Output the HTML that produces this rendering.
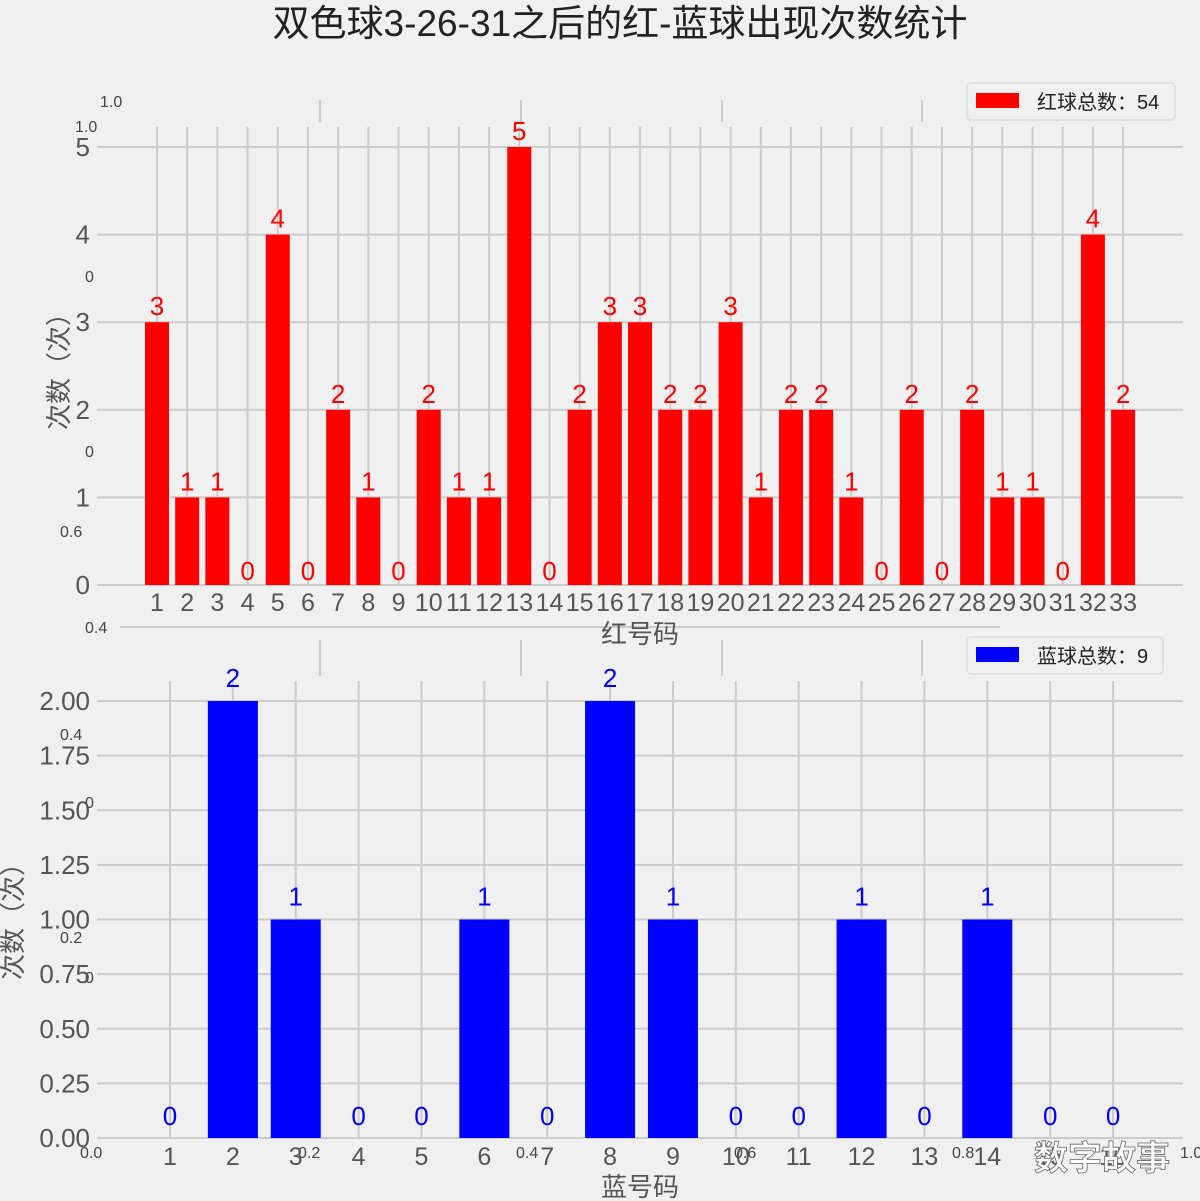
<!DOCTYPE html>
<html><head><meta charset="utf-8"><style>
html,body{margin:0;padding:0;background:#f0f0f0;}
svg{display:block;font-family:"Liberation Sans","Noto Sans CJK SC",sans-serif;}
</style></head><body>
<svg id="chart" width="1200" height="1201" viewBox="0 0 1200 1201" xmlns="http://www.w3.org/2000/svg">
<rect width="1200" height="1201" fill="#f0f0f0"/>
<text x="620" y="36" text-anchor="middle" font-size="37" fill="#222">双色球3-26-31之后的红-蓝球出现次数统计</text>
<g id="ghost" fill="#444" font-size="16"></g>
<g id="top"></g>
<g id="bot"></g>
<text x="1102" y="1170" text-anchor="middle" font-size="34" font-weight="bold" fill="#fff" stroke="#666" stroke-width="0.8">数字故事</text>
</svg>
<script>
const redCats = Array.from({length:33},(_,i)=>String(i+1));
const redVals = [3,1,1,0,4,0,2,1,0,2,1,1,5,0,2,3,3,2,2,3,1,2,2,1,0,2,0,2,1,1,0,4,2];
const redTicks = [0,1,2,3,4,5];
const blueCats = Array.from({length:16},(_,i)=>String(i+1));
const blueVals = [0,2,1,0,0,1,0,2,1,0,0,1,0,1,0,0];
const blueTicks = ['0.00','0.25','0.50','0.75','1.00','1.25','1.50','1.75','2.00'];

const NS='http://www.w3.org/2000/svg';
function mk(parent,tag,attrs,text){const e=document.createElementNS(NS,tag);for(const k in attrs)e.setAttribute(k,attrs[k]);if(text!==undefined)e.textContent=text;parent.appendChild(e);return e;}

const g=document.getElementById('ghost');
[[100,101,'1.0'],[75,126,'1.0'],[85,276,'0'],[85,451,'0'],[60,531,'0.6'],[85,627,'0.4'],[60,734,'0.4'],[85,802,'0'],[60,937,'0.2'],[85,977,'0'],[80,1152,'0.0'],[298,1152,'0.2'],[516,1152,'0.4'],[734,1152,'0.6'],[952,1152,'0.8'],[1180,1152,'1.0']].forEach(function(t){
 const e=mk(g,'text',{x:t[0],y:t[1]+6},t[2]);
 
 
});
mk(g,'line',{x1:120,x2:1000,y1:627,y2:627,stroke:'#cbcbcb','stroke-width':2});
[320,521,722,922].forEach(function(x){mk(g,'line',{x1:x,x2:x,y1:100,y2:122,stroke:'#cbcbcb','stroke-width':2});mk(g,'line',{x1:x,x2:x,y1:640,y2:676,stroke:'#cbcbcb','stroke-width':2});});

function drawChart(gid,cats,vals,ticks,tickVals,cfg){
 const G=document.getElementById(gid);
 const yS=v=>cfg.y0-(v/cfg.ymax)*(cfg.y0-cfg.yTop);
 const xS=i=>cfg.x0+i*cfg.step;
 ticks.forEach(function(t,i){
  const y=yS(tickVals[i]);
  mk(G,'line',{x1:97,x2:1183,y1:y,y2:y,stroke:'#cbcbcb','stroke-width':2});
  const e=mk(G,'text',{x:90,y:y+9,'text-anchor':'end','font-size':26,fill:'#555'},t);
  
  
 });
 cats.forEach(function(c,i){
  const x=xS(i);
  mk(G,'line',{x1:x,x2:x,y1:cfg.gTop,y2:cfg.y0,stroke:'#cbcbcb','stroke-width':2});
 });
 cats.forEach(function(c,i){
  const x=xS(i),v=vals[i],y=yS(v);
  if(v>0){const r=mk(G,'rect',{x:x-cfg.bw/2,y:y,width:cfg.bw,height:cfg.y0-y,fill:cfg.color});
   
   }
  const lv=mk(G,'text',{x:x,y:(v>0?y-cfg.lOff:cfg.y0-cfg.zOff),'text-anchor':'middle','font-size':26,fill:cfg.color},String(v));
  
  
  const tl=mk(G,'text',{x:x,y:cfg.y0+cfg.xlOff,'text-anchor':'middle','font-size':cfg.xfs,fill:'#555'},c);
  
  
 });
 const xt=mk(G,'text',{x:640,y:cfg.xtitleY,'text-anchor':'middle','font-size':26,fill:'#555'},cfg.xtitle);
 
 
 const yt=mk(G,'text',{x:0,y:0,transform:'translate('+cfg.ytitleX+','+cfg.ytitleY+') rotate(-90)','text-anchor':'middle','font-size':26,fill:'#555'},'次数（次）');
 
 
 const L=mk(G,'g',{});
 
 
 mk(L,'rect',{x:967,y:cfg.legY,width:cfg.legW,height:37,rx:4,fill:'#f0f0f0',stroke:'#dcdcdc','stroke-width':1.5});
 mk(L,'rect',{x:976,y:cfg.legY+10,width:43,height:15,fill:cfg.color});
 mk(L,'text',{x:1037,y:cfg.legY+26,'font-size':20,fill:'#222'},cfg.legText);
}
drawChart('top',redCats,redVals,redTicks.map(String),redTicks,{y0:585,yTop:147,ymax:5,x0:157,step:30.19,bw:24,gTop:127,color:'#ff0000',lOff:7,zOff:5,xlOff:26,xfs:25,xtitle:'红号码',xtitleY:643,ytitleX:68,ytitleY:365,legY:83,legW:208,legText:'红球总数：'+redVals.reduce((a,b)=>a+b,0)});
drawChart('bot',blueCats,blueVals,blueTicks,blueTicks.map(Number),{y0:1138,yTop:701,ymax:2,x0:170,step:62.87,bw:50,gTop:681,color:'#0000ff',lOff:14,zOff:13,xlOff:27,xfs:25,xtitle:'蓝号码',xtitleY:1196,ytitleX:22,ytitleY:915,legY:637,legW:196,legText:'蓝球总数：'+blueVals.reduce((a,b)=>a+b,0)});
</script>
</body></html>
